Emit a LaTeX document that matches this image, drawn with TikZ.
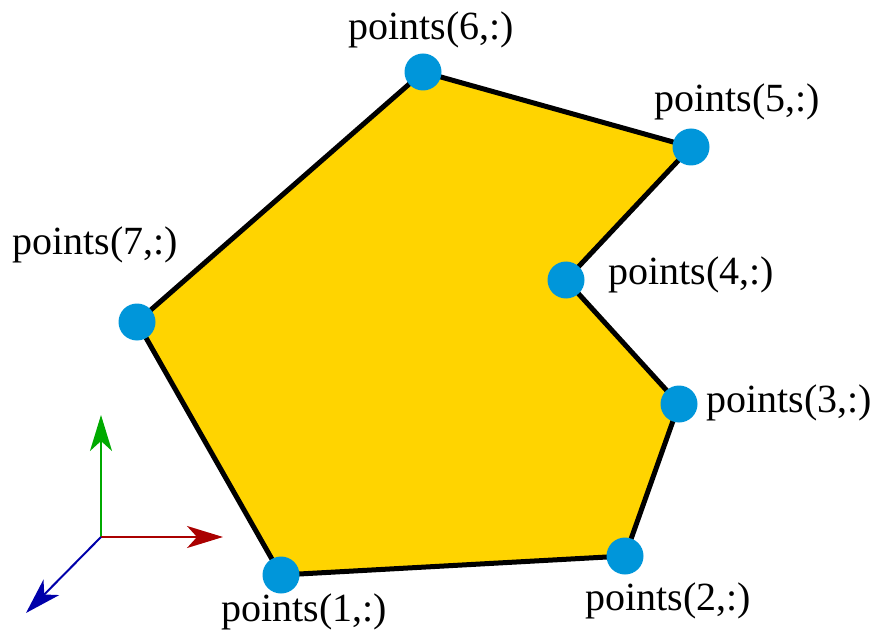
\documentclass[tikz,border=0pt]{standalone}
\usepackage{fontspec}
\setmainfont{Liberation Serif}
\usetikzlibrary{arrows.meta}
\definecolor{polyfill}{RGB}{255,212,0}
\definecolor{dotblue}{RGB}{0,150,218}
\definecolor{axgreen}{RGB}{0,170,0}
\definecolor{axred}{RGB}{170,0,0}
\definecolor{axblue}{RGB}{0,0,170}
\tikzset{
  vdot/.style={circle,fill=dotblue,inner sep=0pt,minimum size=37pt},
  lbl/.style={font=\rmfamily\fontsize{40}{46}\selectfont,inner sep=0pt},
  axisarrow/.style={line width=2pt,-{Stealth[length=36pt,width=22pt,inset=10pt]}}
}
\begin{document}
\begin{tikzpicture}[x=1pt,y=-1pt]
\useasboundingbox (0,0) rectangle (875,636);
\coordinate (p1) at (281,575);
\coordinate (p2) at (625,556);
\coordinate (p3) at (679,404);
\coordinate (p4) at (566,280);
\coordinate (p5) at (691,147);
\coordinate (p6) at (423,72);
\coordinate (p7) at (137,322);
\draw[fill=polyfill,line width=5pt,line join=miter] (p1) -- (p2) -- (p3) -- (p4) -- (p5) -- (p6) -- (p7) -- cycle;
\foreach \i in {1,...,7} \node[vdot] (d\i) at (p\i) {};
\node[lbl] (l1) at (304,612) {points(1,:)};
\node[lbl] (l2) at (668,601) {points(2,:)};
\node[lbl] (l3) at (789,403) {points(3,:)};
\node[lbl] (l4) at (691,275) {points(4,:)};
\node[lbl] (l5) at (737,102) {points(5,:)};
\node[lbl] (l6) at (431,30) {points(6,:)};
\node[lbl] (l7) at (95,245) {points(7,:)};
\coordinate (o) at (101,537);
\coordinate (ax) at (223,537);
\coordinate (ay) at (101,415);
\coordinate (az) at (26,613);
\draw[axisarrow,axgreen] (o) -- (ay);
\draw[axisarrow,axred] (o) -- (ax);
\draw[axisarrow,axblue] (o) -- (az);
\end{tikzpicture}
\end{document}
